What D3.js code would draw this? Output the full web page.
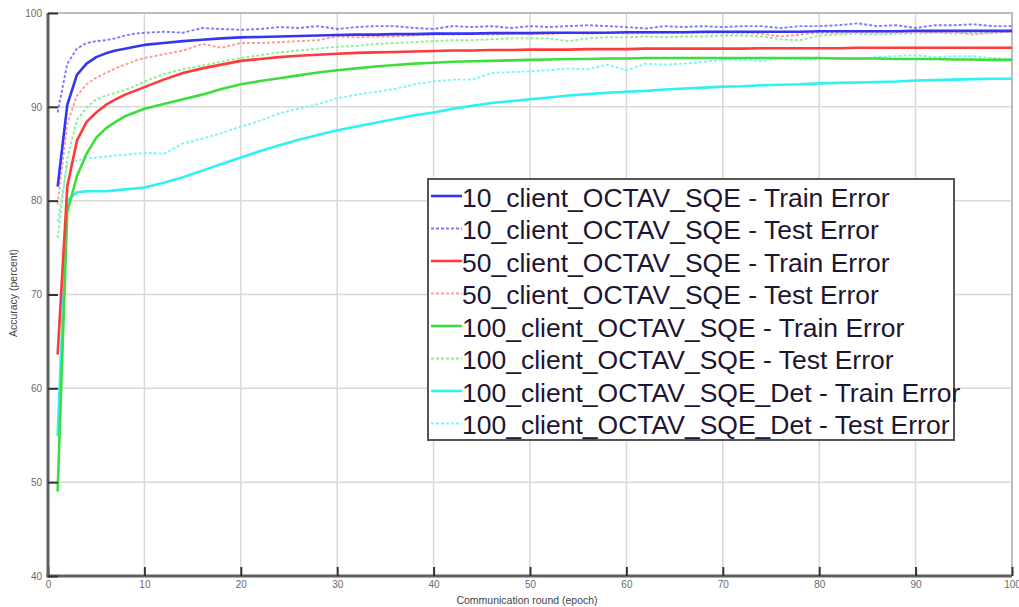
<!DOCTYPE html>
<html><head><meta charset="utf-8">
<script src="https://cdn.jsdelivr.net/npm/d3@7/dist/d3.min.js"></script>
<style>body{margin:0;background:#fff}svg{display:block}</style>
</head><body>
<svg id="c" width="1019" height="607"></svg>
<script>
const epochs = [1,2,3,4,5,6,7,8,9,10,12,14,16,18,20,22,24,26,28,30,32,34,36,38,40,42,44,46,48,50,52,54,56,58,60,62,64,66,68,70,72,74,76,78,80,82,84,86,88,90,92,94,96,98,100];

const c10Train = [81.5,90.2,93.4,94.6,95.3,95.7,96.0,96.2,96.4,96.6,96.8,97.0,97.15,97.3,97.4,97.45,97.5,97.55,97.6,97.65,97.7,97.7,97.75,97.75,97.8,97.8,97.8,97.85,97.85,97.85,97.9,97.9,97.9,97.9,97.95,97.95,97.95,97.95,98.0,98.0,98.0,98.0,98.0,98.0,98.05,98.05,98.05,98.05,98.05,98.1,98.1,98.1,98.1,98.1,98.1];
const c10Test = [89.4,94.6,96.2,96.8,97.0,97.1,97.3,97.6,97.8,97.9,98.0,97.9,98.4,98.3,98.2,98.3,98.5,98.4,98.6,98.3,98.5,98.6,98.6,98.4,98.3,98.6,98.5,98.6,98.4,98.6,98.5,98.6,98.7,98.6,98.5,98.35,98.6,98.5,98.6,98.5,98.6,98.6,98.4,98.6,98.6,98.7,98.9,98.6,98.7,98.4,98.7,98.7,98.8,98.6,98.6];
const c50Train = [63.6,81.5,86.4,88.4,89.4,90.2,90.8,91.3,91.7,92.1,92.9,93.6,94.1,94.5,94.9,95.1,95.3,95.45,95.55,95.65,95.75,95.8,95.85,95.9,95.95,96.0,96.0,96.05,96.05,96.1,96.1,96.1,96.15,96.15,96.15,96.2,96.2,96.2,96.2,96.2,96.2,96.25,96.25,96.25,96.25,96.25,96.3,96.3,96.3,96.3,96.3,96.3,96.3,96.3,96.3];
const c50Test = [79.6,88.2,91.2,92.4,93.1,93.6,94.1,94.5,94.9,95.2,95.6,96.0,96.7,96.3,96.8,96.8,96.9,97.0,97.1,97.5,97.4,97.5,97.5,97.6,97.7,97.7,97.8,97.7,97.8,97.8,97.75,97.9,97.8,97.9,97.8,97.85,97.9,97.9,97.9,97.9,97.9,97.8,97.5,97.7,97.9,97.9,98.0,97.9,97.95,98.0,97.95,98.0,97.7,97.9,98.0];
const c100Train = [49.0,78.8,82.6,85.0,86.7,87.7,88.4,89.0,89.4,89.8,90.3,90.8,91.3,91.9,92.4,92.75,93.05,93.35,93.65,93.9,94.1,94.3,94.45,94.6,94.7,94.8,94.85,94.9,94.95,95.0,95.05,95.1,95.1,95.15,95.15,95.2,95.2,95.2,95.2,95.2,95.2,95.2,95.2,95.2,95.2,95.15,95.15,95.15,95.1,95.1,95.1,95.05,95.05,95.0,95.0];
const c100Test = [76.0,84.5,88.6,89.9,90.8,91.2,91.5,91.8,92.2,92.7,93.5,94.0,94.4,94.8,95.2,95.5,95.8,96.0,96.2,96.4,96.5,96.7,96.8,96.9,97.0,97.1,97.1,97.2,97.3,97.3,97.3,97.0,97.3,97.4,97.4,97.5,97.4,97.5,97.5,97.6,97.6,97.5,97.2,97.1,97.6,97.7,97.8,97.7,97.8,97.8,97.9,97.8,97.9,97.9,98.0];
const detTrain = [54.9,80.0,80.9,81.0,81.0,81.0,81.1,81.2,81.3,81.4,81.9,82.5,83.2,83.9,84.6,85.3,85.9,86.5,87.0,87.5,87.9,88.3,88.7,89.1,89.4,89.8,90.1,90.4,90.6,90.8,91.0,91.2,91.35,91.5,91.6,91.7,91.85,91.95,92.05,92.15,92.2,92.3,92.35,92.4,92.5,92.55,92.6,92.65,92.7,92.8,92.85,92.9,92.95,93.0,93.0];
const detTest = [77.8,83.8,84.3,84.5,84.6,84.7,84.8,84.9,85.0,85.1,85.0,86.1,86.6,87.2,87.9,88.5,89.3,89.8,90.3,90.9,91.3,91.6,91.9,92.4,92.7,92.9,92.9,93.6,93.7,93.8,93.9,94.1,94.0,94.5,93.9,94.6,94.5,94.6,94.8,95.0,95.0,94.9,95.1,95.0,95.1,95.2,95.1,95.3,95.4,95.5,95.3,95.4,95.4,95.2,95.1];

const seriesNames = ["10_client_OCTAV_SQE - Train Error","10_client_OCTAV_SQE - Test Error","50_client_OCTAV_SQE - Train Error","50_client_OCTAV_SQE - Test Error","100_client_OCTAV_SQE - Train Error","100_client_OCTAV_SQE - Test Error","100_client_OCTAV_SQE_Det - Train Error","100_client_OCTAV_SQE_Det - Test Error"];
const seriesValues = [c10Train,c10Test,c50Train,c50Test,c100Train,c100Test,detTrain,detTest];
const seriesColors = ["#3535f0","#7a7aff","#ff3a3a","#ff9a9a","#3fdc3f","#8fee8f","#2ef2f2","#7af5f5"];
const seriesDashed = [false,true,false,true,false,true,false,true];

const xTicks = [0,10,20,30,40,50,60,70,80,90,100];
const yTicks = [40,50,60,70,80,90,100];
const xLabel = "Communication round (epoch)";
const yLabel = "Accuracy (percent)";

const svg = d3.select("#c");
const L=48, R=1012, T=13, B=576;
const x = d3.scaleLinear().domain([0,100]).range([L,R]);
const y = d3.scaleLinear().domain([40,100]).range([B,T]);

// grid
const g = svg.append("g");
g.selectAll(".gx").data(xTicks).join("line").attr("x1",d=>x(d)).attr("x2",d=>x(d)).attr("y1",T).attr("y2",B).attr("stroke","#d9d9d9").attr("stroke-width",1.5);
g.selectAll(".gy").data(yTicks).join("line").attr("y1",d=>y(d)).attr("y2",d=>y(d)).attr("x1",L).attr("x2",R).attr("stroke","#d9d9d9").attr("stroke-width",1.5);
// top/right border
svg.append("path").attr("d",`M${L},${T}H${R}V${B}`).attr("fill","none").attr("stroke","#bdbdbd").attr("stroke-width",2);

// lines
const line = d3.line().x((d,i)=>x(epochs[i])).y(d=>y(d));
const order = [7,5,3,1,6,4,2,0];
order.forEach(k=>{
  svg.append("path").datum(seriesValues[k]).attr("d",line).attr("fill","none")
    .attr("stroke",seriesColors[k]).attr("stroke-width",seriesDashed[k]?1.9:2.6)
    .attr("stroke-dasharray",seriesDashed[k]?"3,2":null).attr("stroke-linejoin","round");
});

// axes
const xAxis = d3.axisBottom(x).tickValues(xTicks).tickSize(-9).tickPadding(5);
const yAxis = d3.axisLeft(y).tickValues(yTicks).tickSize(-10).tickPadding(6);
const ax = svg.append("g").attr("transform",`translate(0,${B})`).call(xAxis);
const ay = svg.append("g").attr("transform",`translate(${L},0)`).call(yAxis);
[ax,ay].forEach(a=>{
  a.select(".domain").attr("stroke","#606060").attr("stroke-width",3);
  a.selectAll(".tick line").attr("stroke","#333").attr("stroke-width",2);
  a.selectAll(".tick text").attr("fill","#6a6a6a").style("font-family","Liberation Sans, Arial, sans-serif").style("font-size","10px");
});
ax.select(".domain").attr("d",`M${L-1.5},0H${R}`);
ay.select(".domain").attr("d",`M0,${T}V${B+1.5}`);

svg.append("text").attr("x",527).attr("y",604).attr("text-anchor","middle").attr("fill","#444")
  .style("font-family","Liberation Sans, Arial, sans-serif").style("font-size","10.5px").text(xLabel);
svg.append("text").attr("transform","translate(17,293) rotate(-90)").attr("text-anchor","middle").attr("fill","#444")
  .style("font-family","Liberation Sans, Arial, sans-serif").style("font-size","10.5px").text(yLabel);

// legend
const lg = svg.append("g");
lg.append("rect").attr("x",428).attr("y",179).attr("width",526).attr("height",261).attr("fill","#fff").attr("stroke","#555").attr("stroke-width",2);
seriesNames.forEach((n,i)=>{
  const cy = 197 + i*32.5;
  lg.append("line").attr("x1",431).attr("x2",462).attr("y1",cy-1).attr("y2",cy-1)
    .attr("stroke",seriesColors[i]).attr("stroke-width",seriesDashed[i]?1.9:2.6).attr("stroke-dasharray",seriesDashed[i]?"3,2":null);
  lg.append("text").attr("x",462).attr("y",cy).attr("dy","0.36em").attr("fill","#1e1532")
    .style("font-family","Liberation Sans, Arial, sans-serif").style("font-size","26.5px").text(n);
});
</script>
</body></html>
